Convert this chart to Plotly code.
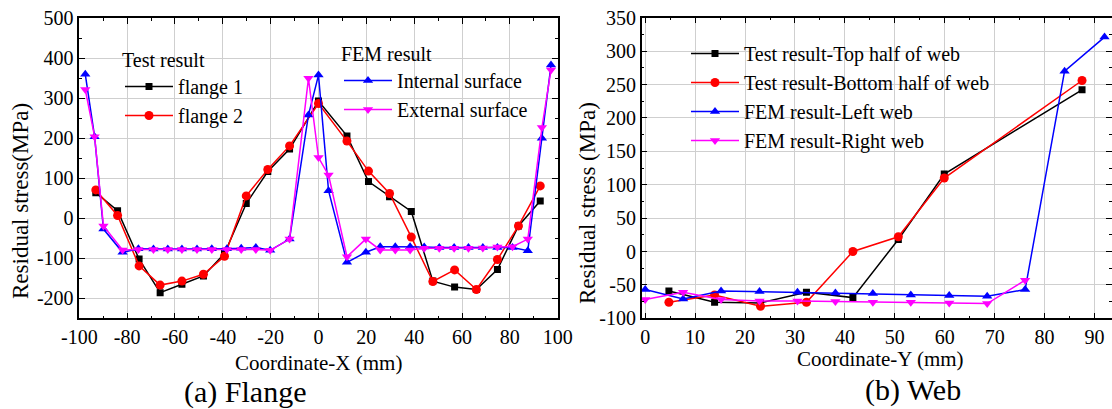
import plotly.graph_objects as go

# ---------------- Flange (a) ----------------
flange_x_test = [-93.1, -84.0, -75.0, -66.2, -57.1, -48.1, -39.3, -30.2, -21.2, -12.1,
                 0.0, 11.9, 20.9, 29.7, 38.8, 47.8, 56.9, 66.0, 74.8, 83.6, 92.7]
flange1_y = [64, 19, -102, -186, -165, -144, -88, 37, 117, 173,
             293, 206, 92, 54, 17, -157, -172, -178, -128, -19, 43]
flange2_y = [71, 7, -119, -167, -157, -140, -95, 56, 122, 181,
             287, 193, 118, 62, -47, -158, -129, -178, -103, -19, 81]

flange_x_fem = [-97.5, -93.6, -89.9, -81.9, -75.3, -69.0, -63.0, -57.1, -50.8, -44.6,
                -38.3, -32.3, -26.2, -20.2, -12.1, -4.2, 0.0, 4.2, 11.9, 19.8,
                25.8, 32.1, 38.3, 44.2, 50.5, 56.7, 62.7, 68.7, 74.8, 81.1,
                87.5, 93.4, 97.2]
internal_y = [360, 204, -27, -85, -76, -77, -77, -77, -77, -76,
              -76, -75, -73, -80, -52, 258, 358, 69, -110, -85,
              -71, -71, -71, -72, -73, -73, -73, -73, -73, -73,
              -81, 200, 383]
external_y = [322, 204, -19, -79, -78, -78, -78, -78, -78, -78,
              -78, -78, -78, -80, -52, 350, 152, 108, -96, -52,
              -79, -79, -79, -75, -75, -75, -75, -74, -72, -71,
              -52, 227, 371]

flange_xticks = [-100, -80, -60, -40, -20, 0, 20, 40, 60, 80, 100]
flange_xlabels = ["-100", "-80", "-60", "-40", "-20", "0", "20", "40", "60", "80", "100"]
flange_yticks = [-200, -100, 0, 100, 200, 300, 400, 500]
flange_ylabels = ["-200", "-100", "0", "100", "200", "300", "400", "500"]

# ---------------- Web (b) ----------------
web_x_test = [4.75, 13.9, 23.1, 32.3, 41.6, 50.7, 59.9, 87.5]
web_top_y = [-59, -76, -77, -61, -69, 18, 116, 242]
web_bottom_y = [-76, -65, -82, -76, 0, 22, 110, 256]

web_x_left = [0.0, 7.6, 15.2, 22.9, 30.5, 38.1, 45.6, 53.2, 60.9, 68.5, 76.1, 84.0, 92.0]
web_left_y = [-57, -71, -59, -60, -61, -62, -63, -65, -66, -67, -57, 270, 321]
web_x_right = [0.0, 7.6, 15.2, 22.9, 30.5, 38.1, 45.6, 53.2, 60.9, 68.5, 76.1]
web_right_y = [-72, -61, -72, -74, -74, -75, -76, -76, -77, -78, -43]

web_xticks = [0, 10, 20, 30, 40, 50, 60, 70, 80, 90]
web_xlabels = ["0", "10", "20", "30", "40", "50", "60", "70", "80", "90"]
web_yticks = [-100, -50, 0, 50, 100, 150, 200, 250, 300, 350]
web_ylabels = ["-100", "-50", "0", "50", "100", "150", "200", "250", "300", "350"]

FONT = "Liberation Serif"
W, H = 1112, 409


def px_x(p):
    return p / W


def px_y(p):
    return 1 - p / H


fig = go.Figure()


def add(x, y, name, color, symbol, size, xa, ya, legend):
    fig.add_trace(go.Scatter(
        x=x, y=y, name=name, mode="lines+markers",
        line=dict(color=color, width=1.5),
        marker=dict(color=color, symbol=symbol, size=size),
        xaxis=xa, yaxis=ya, legend=legend,
    ))


add(flange_x_test, flange1_y, "flange 1", "#000000", "square", 7, "x", "y", "legend")
add(flange_x_test, flange2_y, "flange 2", "#ff0000", "circle", 9, "x", "y", "legend")
add(flange_x_fem, internal_y, "Internal surface", "#0000ff", "triangle-up", 9, "x", "y", "legend2")
add(flange_x_fem, external_y, "External surface", "#ff00ff", "triangle-down", 9, "x", "y", "legend2")

add(web_x_test, web_top_y, "Test result-Top half of web", "#000000", "square", 7, "x2", "y2", "legend3")
add(web_x_test, web_bottom_y, "Test result-Bottom half of web", "#ff0000", "circle", 9, "x2", "y2", "legend3")
add(web_x_left, web_left_y, "FEM result-Left web", "#0000ff", "triangle-up", 9, "x2", "y2", "legend3")
add(web_x_right, web_right_y, "FEM result-Right web", "#ff00ff", "triangle-down", 9, "x2", "y2", "legend3")

axis_common = dict(
    automargin=False,
    showgrid=True, gridcolor="#cfcfcf", gridwidth=1,
    showline=True, linecolor="#000000", linewidth=1.5, mirror="ticks",
    ticks="inside", ticklen=6, tickwidth=1.2, tickcolor="#000000",
    zeroline=False, tickmode="array",
    tickfont=dict(family=FONT, size=20, color="#000000"),
)

legend_common = dict(xanchor="left", yanchor="top", bgcolor="rgba(0,0,0,0)",
                     borderwidth=0, itemwidth=48, tracegroupgap=0,
                     font=dict(family=FONT, size=20, color="#000000"))

fig.update_layout(
    template="none",
    width=W, height=H, autosize=False,
    margin=dict(l=0, r=0, t=0, b=0, autoexpand=False),
    paper_bgcolor="white", plot_bgcolor="white",
    font=dict(family=FONT, size=20, color="#000000"),
    xaxis=dict(domain=[px_x(79.3), px_x(557.7)], range=[-100, 100],
               tickvals=flange_xticks, ticktext=flange_xlabels, anchor="y",
               minor=dict(dtick=10, tick0=0, ticks="inside", ticklen=3, tickcolor="#000000", showgrid=False),
               **axis_common),
    yaxis=dict(domain=[px_y(318.3), px_y(18.3)], range=[-250, 500],
               tickvals=flange_yticks, ticktext=flange_ylabels, anchor="x",
               minor=dict(dtick=50, tick0=0, ticks="inside", ticklen=3, tickcolor="#000000", showgrid=False),
               **axis_common),
    xaxis2=dict(domain=[px_x(641.7), 1.0], range=[-0.7, 93.5],
                tickvals=web_xticks, ticktext=web_xlabels, anchor="y2",
                minor=dict(dtick=5, tick0=0, ticks="inside", ticklen=3, tickcolor="#000000", showgrid=False),
                **axis_common),
    yaxis2=dict(domain=[px_y(318.3), px_y(17.7)], range=[-100, 350],
                tickvals=web_yticks, ticktext=web_ylabels, anchor="x2",
                minor=dict(dtick=25, tick0=0, ticks="inside", ticklen=3, tickcolor="#000000", showgrid=False),
                **axis_common),
    legend=dict(x=px_x(120), y=px_y(41),
                title=dict(text="Test result", font=dict(family=FONT, size=20)),
                **legend_common),
    legend2=dict(x=px_x(339), y=px_y(35),
                 title=dict(text="FEM result", font=dict(family=FONT, size=20)),
                 **legend_common),
    legend3=dict(x=px_x(686), y=px_y(34), **legend_common),
    showlegend=True,
)

# white panels behind the legend text: hide gridlines but keep the curves visible
for (x0, y0, x1, y1) in [(123, 48, 252, 125), (340, 42, 535, 120), (688, 40, 1007, 150)]:
    fig.add_shape(type="rect", xref="paper", yref="paper",
                  x0=px_x(x0), x1=px_x(x1), y0=px_y(y1), y1=px_y(y0),
                  fillcolor="white", line=dict(width=0), layer="between")

# axis titles and panel captions
texts = [
    ("Coordinate-X (mm)", 318, 363, 21, 0),
    ("Coordinate-Y (mm)", 880, 359, 21, 0),
    ("Residual stress(MPa)", 20, 201, 23, -90),
    ("Residual stress (MPa)", 587, 203, 23, -90),
    ("(a) Flange", 245, 392, 30, 0),
    ("(b) Web", 913, 390, 30, 0),
]
for text, cx, cy, size, angle in texts:
    fig.add_annotation(text=text, x=px_x(cx), y=px_y(cy), xref="paper", yref="paper",
                       xanchor="center", yanchor="middle", showarrow=False, textangle=angle,
                       font=dict(family=FONT, size=size, color="#000000"))

fig.write_html("out.html")
